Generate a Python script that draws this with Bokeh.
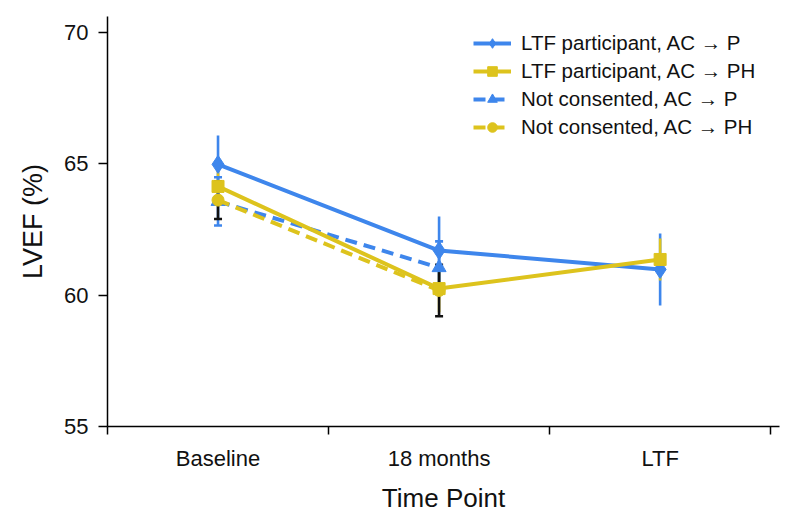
from bokeh.plotting import figure
from bokeh.models import (Range1d, FixedTicker, Whisker, TeeHead, ColumnDataSource,
                          Legend, LegendItem)
from bokeh.embed import file_html
from bokeh.resources import INLINE

# ---- data ----
time_points = ["Baseline", "18 months", "LTF"]
x_pos = [0.5, 1.5, 2.5]

ltf_p_mean = [64.98, 61.70, 60.98]
ltf_p_err = [1.10, 1.30, 1.37]

ltf_ph_mean = [64.14, 60.25, 61.36]
ltf_ph_err = [0.68, 0.90, 0.80]

nc_p_mean = [63.57, 61.05]
nc_p_err = [0.92, 1.00]

nc_ph_mean = [63.62, 60.18]
nc_ph_err = [0.72, 0.98]

y_ticks = [55, 60, 65, 70]
series_names = ["LTF participant, AC \u2192 P", "LTF participant, AC \u2192 PH",
                "Not consented, AC \u2192 P", "Not consented, AC \u2192 PH"]

BLUE = "#3E86EC"
YELLOW = "#DDC31D"
FONT = "Liberation Sans"

p = figure(width=800, height=528, output_backend="svg", toolbar_location=None,
           x_range=Range1d(0, 3.04), y_range=Range1d(55, 70.61),
           min_border_left=107, min_border_top=16, min_border_right=21, min_border_bottom=102,
           background_fill_color="white", border_fill_color="white")
p.outline_line_color = None
p.xgrid.visible = False
p.ygrid.visible = False


def src(xs, m, e):
    return ColumnDataSource(dict(x=xs, y=m,
                                 upper=[a + b for a, b in zip(m, e)],
                                 lower=[a - b for a, b in zip(m, e)]))


s_ltf_p = src(x_pos, ltf_p_mean, ltf_p_err)
s_ltf_ph = src(x_pos, ltf_ph_mean, ltf_ph_err)
s_nc_p = src(x_pos[:2], nc_p_mean, nc_p_err)
s_nc_ph = src(x_pos[:2], nc_ph_mean, nc_ph_err)


def whisker(source, color, caps):
    kw = dict(base="x", upper="upper", lower="lower", source=source, dimension="height",
              line_color=color, line_width=2.6)
    if caps:
        kw["upper_head"] = TeeHead(size=8, line_color=color, line_width=2.6)
        kw["lower_head"] = TeeHead(size=8, line_color=color, line_width=2.6)
    else:
        kw["upper_head"] = None
        kw["lower_head"] = None
    p.add_layout(Whisker(**kw))


whisker(s_ltf_p, BLUE, False)
whisker(s_ltf_ph, YELLOW, False)
whisker(s_nc_p, BLUE, True)
whisker(s_nc_ph, "#111111", True)

# dashed lines
l3 = p.line("x", "y", source=s_nc_p, line_color=BLUE, line_width=4, line_dash="12 7")
m3 = p.scatter("x", "y", source=s_nc_p, marker="triangle", size=14, color=BLUE)
l4 = p.line("x", "y", source=s_nc_ph, line_color=YELLOW, line_width=4, line_dash="12 7")
m4 = p.scatter("x", "y", source=s_nc_ph, marker="circle", size=12, color=YELLOW)

# solid lines
l1 = p.line("x", "y", source=s_ltf_p, line_color=BLUE, line_width=4)
m1 = p.scatter("x", "y", source=s_ltf_p, marker="diamond", size=18, color=BLUE)
l2 = p.line("x", "y", source=s_ltf_ph, line_color=YELLOW, line_width=4)
m2 = p.scatter("x", "y", source=s_ltf_ph, marker="square", size=12, color=YELLOW)

# axes
xa = p.xaxis[0]
xa.ticker = FixedTicker(ticks=x_pos, minor_ticks=[0, 1, 2, 3])
xa.major_label_overrides = {x: t for x, t in zip(x_pos, time_points)}
xa.major_tick_line_color = None
xa.major_tick_out = 8
xa.major_tick_in = 0
xa.minor_tick_line_color = "black"
xa.minor_tick_out = 8
xa.minor_tick_in = 0
xa.minor_tick_line_width = 1.5
xa.axis_line_width = 1.5
xa.axis_line_color = "black"
xa.major_label_text_font = FONT
xa.major_label_text_font_size = "22px"
xa.major_label_text_color = "#111111"
xa.major_label_standoff = 11
xa.axis_label = "Time Point"
xa.axis_label_text_font = FONT
xa.axis_label_text_font_style = "normal"
xa.axis_label_text_font_size = "26px"
xa.axis_label_text_color = "#111111"
xa.axis_label_standoff = 9

ya = p.yaxis[0]
ya.ticker = FixedTicker(ticks=y_ticks, minor_ticks=[])
ya.major_tick_out = 9
ya.major_tick_in = 0
ya.major_tick_line_width = 1.5
ya.axis_line_width = 1.5
ya.axis_line_color = "black"
ya.major_tick_line_color = "black"
ya.major_label_text_font = FONT
ya.major_label_text_font_size = "22px"
ya.major_label_text_color = "#111111"
ya.major_label_standoff = 10
ya.axis_label = "LVEF (%)"
ya.axis_label_text_font = FONT
ya.axis_label_text_font_style = "normal"
ya.axis_label_text_font_size = "27px"
ya.axis_label_text_color = "#111111"
ya.axis_label_standoff = 13

legend = Legend(items=[
    LegendItem(label=series_names[0], renderers=[l1, m1]),
    LegendItem(label=series_names[1], renderers=[l2, m2]),
    LegendItem(label=series_names[2], renderers=[l3, m3]),
    LegendItem(label=series_names[3], renderers=[l4, m4]),
], location=(366, 287))
legend.border_line_color = None
legend.background_fill_alpha = 0
legend.padding = 0
legend.margin = 0
legend.spacing = 4
legend.glyph_width = 38
legend.glyph_height = 24
legend.label_height = 24
legend.label_standoff = 10
legend.label_text_font = FONT
legend.label_text_font_size = "20.5px"
legend.label_text_color = "#111111"
p.add_layout(legend, "center")

open("out.html", "w").write(file_html(p, INLINE))
